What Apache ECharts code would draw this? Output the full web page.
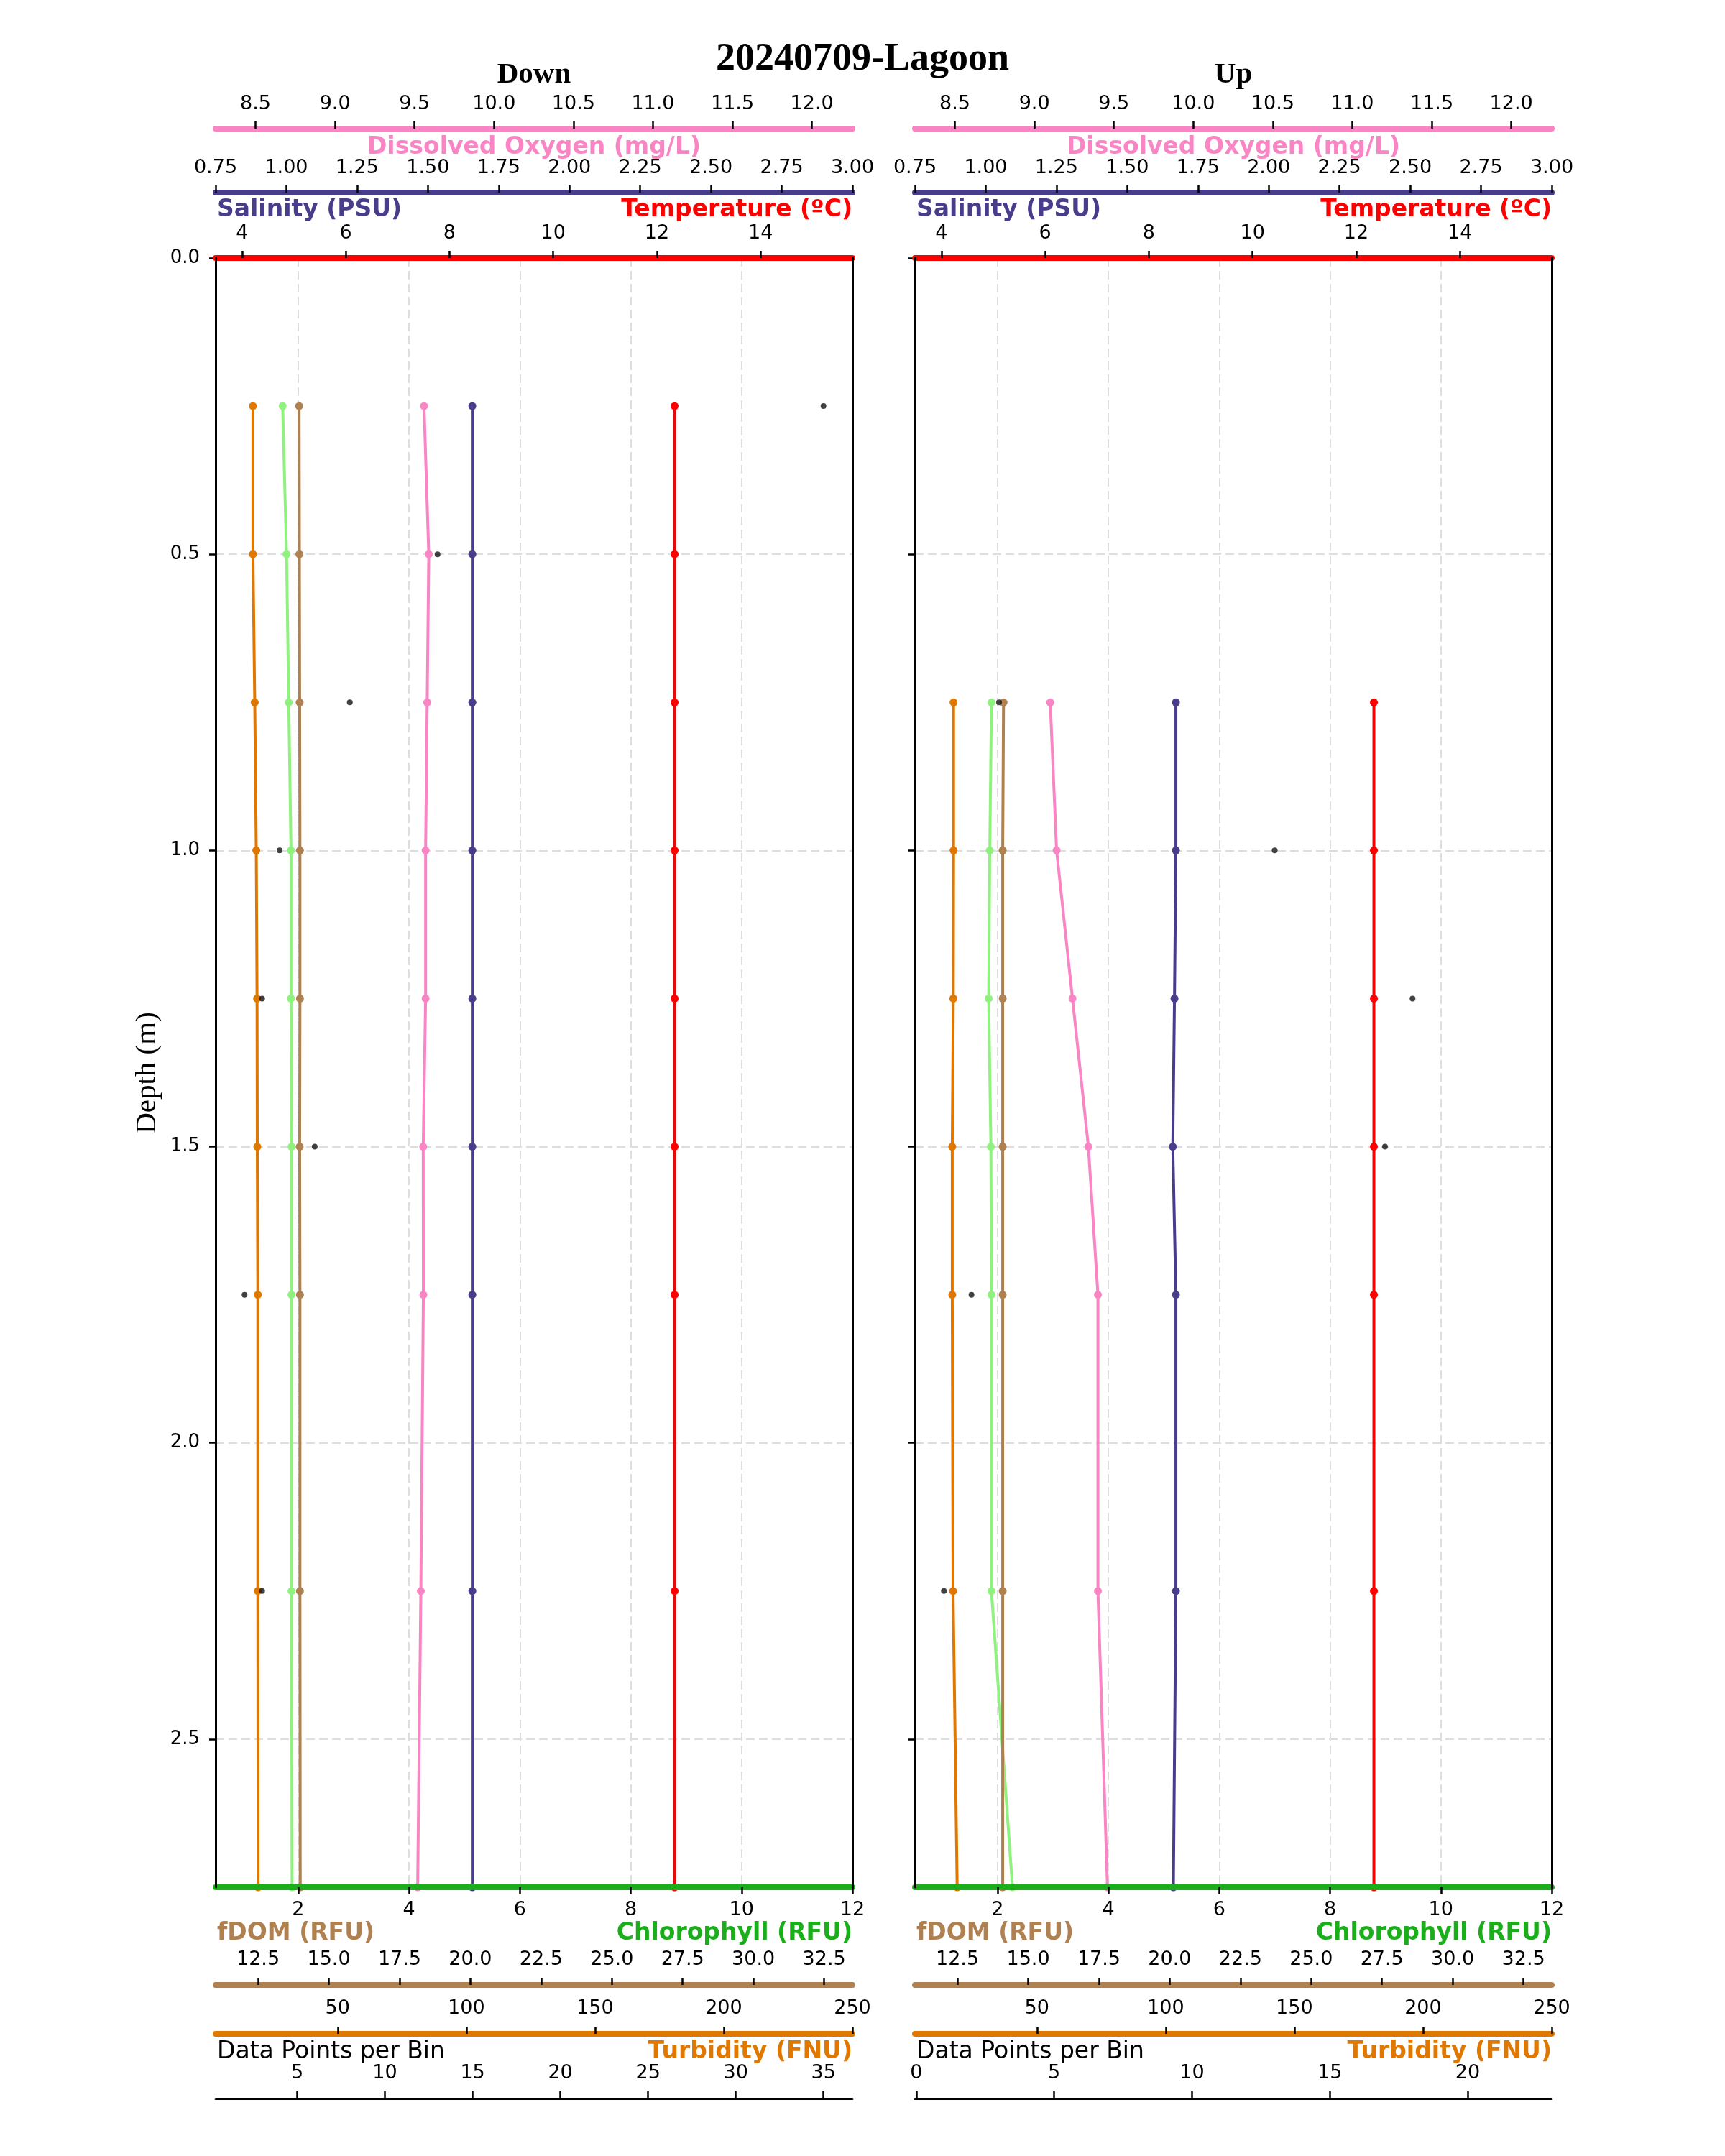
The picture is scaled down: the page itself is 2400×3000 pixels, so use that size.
<!DOCTYPE html>
<html>
<head>
<meta charset="utf-8">
<script src="https://cdn.jsdelivr.net/npm/echarts@6/dist/echarts.min.js"></script>
<style>
  html, body { margin: 0; padding: 0; background: #fff; }
  #chart { width: 2400px; height: 3000px; }
</style>
</head>
<body>
<div id="chart"></div>
<script>
// ---- data: down cast ----
var depthDown = [0.25, 0.5, 0.75, 1.0, 1.25, 1.5, 1.75, 2.25, 2.75];
var tempDown  = [12.34, 12.34, 12.34, 12.34, 12.34, 12.34, 12.34, 12.34, 12.34];
var salDown   = [1.657, 1.657, 1.657, 1.657, 1.657, 1.657, 1.657, 1.657, 1.657];
var doDown    = [9.56, 9.59, 9.58, 9.57, 9.57, 9.555, 9.556, 9.54, 9.52];
var chlDown   = [1.72, 1.79, 1.83, 1.87, 1.87, 1.88, 1.88, 1.88, 1.89];
var fdomDown  = [13.95, 13.96, 13.97, 13.98, 13.98, 13.97, 13.98, 13.98, 13.99];
var turbDown  = [17.1, 17.1, 17.8, 18.4, 18.7, 18.8, 19.0, 19.0, 19.1];
var binsDown  = [35, 13, 8, 4, 3, 6, 2, 3, 9];

// ---- data: up cast ----
var depthUp = [0.75, 1.0, 1.25, 1.5, 1.75, 2.25, 2.75];
var tempUp  = [12.34, 12.34, 12.34, 12.34, 12.34, 12.34, 12.34];
var salUp   = [1.672, 1.672, 1.667, 1.661, 1.672, 1.672, 1.663];
var doUp    = [9.10, 9.14, 9.24, 9.34, 9.40, 9.40, 9.46];
var chlUp   = [1.89, 1.86, 1.84, 1.88, 1.89, 1.89, 2.27];
var fdomUp  = [14.13, 14.10, 14.10, 14.10, 14.10, 14.10, 14.10];
var turbUp  = [17.6, 17.6, 17.5, 17.1, 17.1, 17.4, 19.0];
var binsUp  = [3, 13, 18, 17, 2, 1, 22];

// ---- axis ranges and tick labels ----
var tempRange = [3.49, 15.77];
var salRange  = [0.75, 3.0];
var doRange   = [8.249, 12.255];
var chlRange  = [0.51, 12.0];
var fdomRange = [11.0, 33.5];
var turbRange = [2.6, 250];
var binsRangeDown = [0.35, 36.65];
var binsRangeUp   = [-0.05, 23.05];
var depthRange = [0, 2.75];

var tempTicks  = [4, 6, 8, 10, 12, 14];
var salTicks   = [0.75, 1.0, 1.25, 1.5, 1.75, 2.0, 2.25, 2.5, 2.75, 3.0];
var doTicks    = [8.5, 9.0, 9.5, 10.0, 10.5, 11.0, 11.5, 12.0];
var chlTicks   = [2, 4, 6, 8, 10, 12];
var fdomTicks  = [12.5, 15.0, 17.5, 20.0, 22.5, 25.0, 27.5, 30.0, 32.5];
var turbTicks  = [50, 100, 150, 200, 250];
var binsTicksDown = [5, 10, 15, 20, 25, 30, 35];
var binsTicksUp   = [0, 5, 10, 15, 20];
var depthTicks = [0, 0.5, 1.0, 1.5, 2.0, 2.5];

var FONT = 'DejaVu Sans';
var SERIF = 'Liberation Serif';
var C = {
  temp: '#FF0000', sal: '#483D8B', dox: '#FA85C4', chlAxis: '#1AAF1A',
  chl: '#8FF27E', fdom: '#AF8050', turb: '#E07800', bins: '#000000'
};
var GRIDLINE = { show: true, lineStyle: { color: '#DEDEDE', width: 2, type: [12, 6] } };

var W = 886, TOP = 359, H = 2267;
var panels = [
  { left: 300,  title: 'Down', depth: depthDown, temp: tempDown, sal: salDown, dox: doDown,
    chl: chlDown, fdom: fdomDown, turb: turbDown, bins: binsDown,
    binsRange: binsRangeDown, binsTicks: binsTicksDown },
  { left: 1273, title: 'Up', depth: depthUp, temp: tempUp, sal: salUp, dox: doUp,
    chl: chlUp, fdom: fdomUp, turb: turbUp, bins: binsUp,
    binsRange: binsRangeUp, binsTicks: binsTicksUp }
];

function fmt(d) { return function (v) { return Number(v).toFixed(d); }; }

function xAx(gi, pos, offset, range, ticks, color, lineW, inside, margin, digits, z) {
  return {
    type: 'value', gridIndex: gi, position: pos, offset: offset,
    min: range[0], max: range[1], z: z || 0,
    axisLine: { show: true, onZero: false, lineStyle: { color: color, width: lineW } },
    axisTick: { show: true, inside: inside, length: 10, customValues: ticks,
                lineStyle: { color: '#000', width: 2.5 } },
    axisLabel: { show: true, inside: inside, margin: margin, customValues: ticks,
                 fontFamily: FONT, fontSize: 27, color: '#000', formatter: fmt(digits) },
    splitLine: { show: false }
  };
}

function spine(gi, pos) {
  return {
    type: 'value', gridIndex: gi, inverse: true, position: pos, z: 7,
    min: depthRange[0], max: depthRange[1],
    axisLine: { show: true, onZero: false, lineStyle: { color: '#000', width: 3 } },
    axisTick: { show: false }, axisLabel: { show: false }, splitLine: { show: false }
  };
}

var grids = [], xAxes = [], yAxes = [], series = [], graphics = [];

panels.forEach(function (p, gi) {
  grids.push({ left: p.left, top: TOP, width: W, height: H, show: false });

  var xb = xAxes.length;
  xAxes.push(xAx(gi, 'top', 0, tempRange, tempTicks, C.temp, 8, false, 21, 0, 6));
  xAxes.push(xAx(gi, 'top', 91, salRange, salTicks, C.sal, 8, false, 21, 2));
  xAxes.push(xAx(gi, 'top', 180, doRange, doTicks, C.dox, 8, false, 21, 1));
  xAxes.push(xAx(gi, 'bottom', 0, chlRange, chlTicks, C.chlAxis, 8, false, 18, 0, 6));
  xAxes.push(xAx(gi, 'bottom', 136, fdomRange, fdomTicks, C.fdom, 8, true, 22, 1));
  xAxes.push(xAx(gi, 'bottom', 204, turbRange, turbTicks, C.turb, 8, true, 22, 0));
  xAxes.push(xAx(gi, 'bottom', 294, p.binsRange, p.binsTicks, C.bins, 3, true, 22, 0));
  // vertical grid lines of the chlorophyll scale, kept beneath the profiles
  xAxes.push({
    type: 'value', gridIndex: gi, position: 'bottom', min: chlRange[0], max: chlRange[1], z: 0,
    axisLine: { show: false, onZero: false }, axisTick: { show: false }, axisLabel: { show: false },
    splitLine: GRIDLINE
  });

  var yb = yAxes.length;
  yAxes.push({
    type: 'value', gridIndex: gi, inverse: true, position: 'left', z: 0,
    min: depthRange[0], max: depthRange[1],
    axisLine: { show: false, onZero: false },
    axisTick: { show: true, length: 9, customValues: depthTicks, lineStyle: { color: '#000', width: 2.5 } },
    axisLabel: { show: gi === 0, margin: 22, customValues: depthTicks, fontFamily: FONT,
                 fontSize: 26, color: '#000', formatter: fmt(1) },
    splitLine: GRIDLINE
  });
  yAxes.push(spine(gi, 'left'));
  yAxes.push(spine(gi, 'right'));

  function line(name, xs, xi, color) {
    series.push({
      name: name, type: 'line', xAxisIndex: xb + xi, yAxisIndex: yb,
      data: xs.map(function (v, i) { return [v, p.depth[i]]; }),
      symbol: 'circle', symbolSize: 11, showSymbol: true,
      lineStyle: { color: color, width: 4 }, itemStyle: { color: color },
      z: 2, silent: true
    });
  }
  line('Temperature', p.temp, 0, C.temp);
  line('Salinity', p.sal, 1, C.sal);
  line('Dissolved Oxygen', p.dox, 2, C.dox);
  line('Chlorophyll', p.chl, 3, C.chl);
  line('fDOM', p.fdom, 4, C.fdom);
  line('Turbidity', p.turb, 5, C.turb);
  series.push({
    name: 'Data Points per Bin', type: 'scatter', xAxisIndex: xb + 6, yAxisIndex: yb,
    data: p.bins.map(function (v, i) { return [v, p.depth[i]]; }),
    symbol: 'circle', symbolSize: 8, itemStyle: { color: '#111' }, z: 3, silent: true
  });

  var L = p.left, R = p.left + W, M = p.left + W / 2;
  function txt(s, x, y, align, color, size, weight, family) {
    graphics.push({ type: 'text', x: x, y: y, silent: true,
      style: { text: s, align: align, verticalAlign: 'middle', fill: color,
               font: (weight || 'bold') + ' ' + (size || 33) + 'px "' + (family || FONT) + '"' } });
  }
  txt(p.title, M, 104, 'center', '#000', 41, 'bold', SERIF);
  txt('Dissolved Oxygen (mg/L)', M, 205, 'center', C.dox);
  txt('Salinity (PSU)', L + 2, 292, 'left', C.sal);
  txt('Temperature (\u00BAC)', R, 292, 'right', C.temp);
  txt('fDOM (RFU)', L + 2, 2690, 'left', C.fdom);
  txt('Chlorophyll (RFU)', R, 2690, 'right', C.chlAxis);
  txt('Data Points per Bin', L + 2, 2855, 'left', '#000', 33, 'normal');
  txt('Turbidity (FNU)', R, 2855, 'right', C.turb);
});

graphics.push({ type: 'text', x: 1200, y: 83, silent: true,
  style: { text: '20240709-Lagoon', align: 'center', verticalAlign: 'middle', fill: '#000',
           font: 'bold 54px "' + SERIF + '"' } });
graphics.push({ type: 'text', x: 205, y: 1493, rotation: Math.PI / 2, silent: true,
  style: { text: 'Depth (m)', align: 'center', verticalAlign: 'middle', fill: '#000',
           font: 'normal 41px "' + SERIF + '"' } });

var myChart = echarts.init(document.getElementById('chart'), null, { renderer: 'canvas' });
myChart.setOption({
  backgroundColor: '#fff',
  animation: false,
  grid: grids,
  xAxis: xAxes,
  yAxis: yAxes,
  series: series,
  graphic: graphics
});
</script>
</body>
</html>
